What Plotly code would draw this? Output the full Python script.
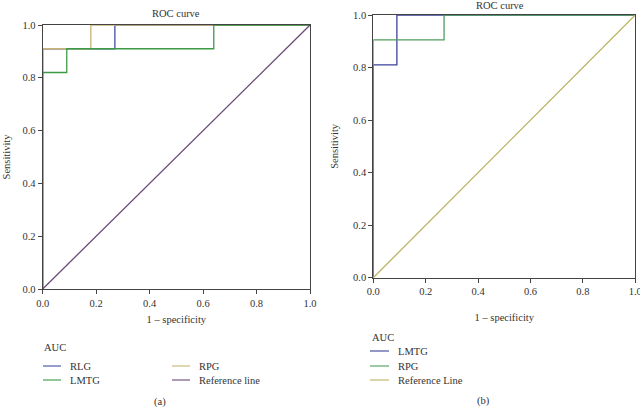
import plotly.graph_objects as go

# ---- data (panel a) ----
a_rlg_x = [0, 0, 0.27, 0.27, 1]
a_rlg_y = [0, 0.91, 0.91, 1.0, 1.0]
a_rpg_x = [0, 0, 0.18, 0.18, 1]
a_rpg_y = [0, 0.91, 0.91, 1.0, 1.0]
a_lmtg_x = [0, 0, 0.09, 0.09, 0.64, 0.64, 1]
a_lmtg_y = [0, 0.82, 0.82, 0.91, 0.91, 1.0, 1.0]
a_ref_x = [0, 1]
a_ref_y = [0, 1]

# ---- data (panel b) ----
b_lmtg_x = [0, 0, 0.09, 0.09, 1]
b_lmtg_y = [0, 0.81, 0.81, 1.0, 1.0]
b_rpg_x = [0, 0, 0.27, 0.27, 1]
b_rpg_y = [0, 0.905, 0.905, 1.0, 1.0]
b_ref_x = [0, 1]
b_ref_y = [0, 1]

tick_vals = [0, 0.2, 0.4, 0.6, 0.8, 1.0]
tick_text = ["0.0", "0.2", "0.4", "0.6", "0.8", "1.0"]

W, H = 640, 407
FONT = "Liberation Serif"
TXT = "#333333"
FS = 10.5

def px(x):
    return x / W

def py(y):
    return (H - y) / H

C_BLUE_A, C_TAN_A, C_GREEN_A, C_PURP_A = "#3f4f9f", "#c9b274", "#3d9a44", "#6a4a78"
C_BLUE_B, C_GREEN_B, C_OLIVE_B = "#3b429a", "#4f9d5c", "#bcb565"

fig = go.Figure()
lw = 1.3
# panel a traces (draw order: blue, tan, green, purple)
panel_a = [
    ("RLG", a_rlg_x, a_rlg_y, C_BLUE_A),
    ("RPG", a_rpg_x, a_rpg_y, C_TAN_A),
    ("LMTG", a_lmtg_x, a_lmtg_y, C_GREEN_A),
    ("Reference line", a_ref_x, a_ref_y, C_PURP_A),
]
for name, xs, ys, col in panel_a:
    fig.add_trace(go.Scatter(x=xs, y=ys, mode="lines", name=name,
                             line=dict(color=col, width=lw), xaxis="x", yaxis="y",
                             showlegend=False))

panel_b = [
    ("LMTG", b_lmtg_x, b_lmtg_y, C_BLUE_B),
    ("RPG", b_rpg_x, b_rpg_y, C_GREEN_B),
    ("Reference Line", b_ref_x, b_ref_y, C_OLIVE_B),
]
for name, xs, ys, col in panel_b:
    fig.add_trace(go.Scatter(x=xs, y=ys, mode="lines", name=name,
                             line=dict(color=col, width=lw), xaxis="x2", yaxis="y2",
                             showlegend=False))

axis_common = dict(range=[0, 1], tickvals=tick_vals, ticktext=tick_text,
                   showgrid=False, zeroline=False, showline=True, mirror=True,
                   linecolor="#444444", linewidth=1, ticks="outside", ticklen=4,
                   tickcolor="#444444", automargin=False,
                   tickfont=dict(family=FONT, size=FS, color=TXT))

def ttl(text, standoff):
    return dict(text=text, standoff=standoff, font=dict(family=FONT, size=FS, color=TXT))

def note(text, x, y, xanchor="center"):
    return dict(text=text, x=px(x), y=py(y), xref="paper", yref="paper",
                xanchor=xanchor, yanchor="middle", showarrow=False,
                font=dict(family=FONT, size=FS, color=TXT))

annotations = [
    note("ROC curve", 176, 14),
    note("ROC curve", 500, 5),
    note("(a)", 160, 402),
    note("(b)", 483, 401),
]
shapes = []

# ---- legends (built from series names / colours) ----
def add_legend(title_xy, entries, key_len, text_gap):
    tx, ty = title_xy
    annotations.append(note("AUC", tx, ty, "left"))
    for name, col, lx, ly in entries:
        shapes.append(dict(type="line", xref="paper", yref="paper",
                           x0=px(lx), x1=px(lx + key_len), y0=py(ly), y1=py(ly),
                           line=dict(color=col, width=1.1)))
        annotations.append(note(name, lx + key_len + text_gap, ly, "left"))

# panel a legend: two columns, rows RLG/LMTG and RPG/Reference line
leg_a_names = ["RLG", "LMTG", "RPG", "Reference line"]
leg_a_cols = [C_BLUE_A, C_GREEN_A, C_TAN_A, C_PURP_A]
col_x_a = [43, 172]
row_y_a = [366, 380]
entries_a = []
for i, (n, c) in enumerate(zip(leg_a_names, leg_a_cols)):
    entries_a.append((n, c, col_x_a[i // 2], row_y_a[i % 2]))
add_legend((42, 347), entries_a, 18, 7)

leg_b_names = ["LMTG", "RPG", "Reference Line"]
leg_b_cols = [C_BLUE_B, C_GREEN_B, C_OLIVE_B]
row_y_b = [351, 366, 380]
entries_b = [(n, c, 370, row_y_b[i]) for i, (n, c) in enumerate(zip(leg_b_names, leg_b_cols))]
add_legend((370, 337), entries_b, 19, 7)

fig.update_layout(
    width=W, height=H,
    margin=dict(l=0, r=0, t=0, b=0, autoexpand=False),
    paper_bgcolor="white", plot_bgcolor="white",
    font=dict(family=FONT, size=FS, color=TXT),
    showlegend=False,
    xaxis=dict(domain=[px(42.7), px(310)], anchor="y",
               title=ttl("1 – specificity", 8), **axis_common),
    yaxis=dict(domain=[py(289), py(25)], anchor="x",
               title=ttl("Sensitivity", 9), **axis_common),
    xaxis2=dict(domain=[px(373.3), px(635.3)], anchor="y2", ticklabeloverflow="allow",
                title=ttl("1 – specificity", 17), **axis_common),
    yaxis2=dict(domain=[py(277.7), py(15)], anchor="x2",
                title=ttl("Sensitivity", 12), **axis_common),
    annotations=annotations,
    shapes=shapes,
)

fig.write_html("out.html", config={"displayModeBar": False, "responsive": False},
               post_script="document.body.style.margin='0';document.body.style.overflow='hidden';")
